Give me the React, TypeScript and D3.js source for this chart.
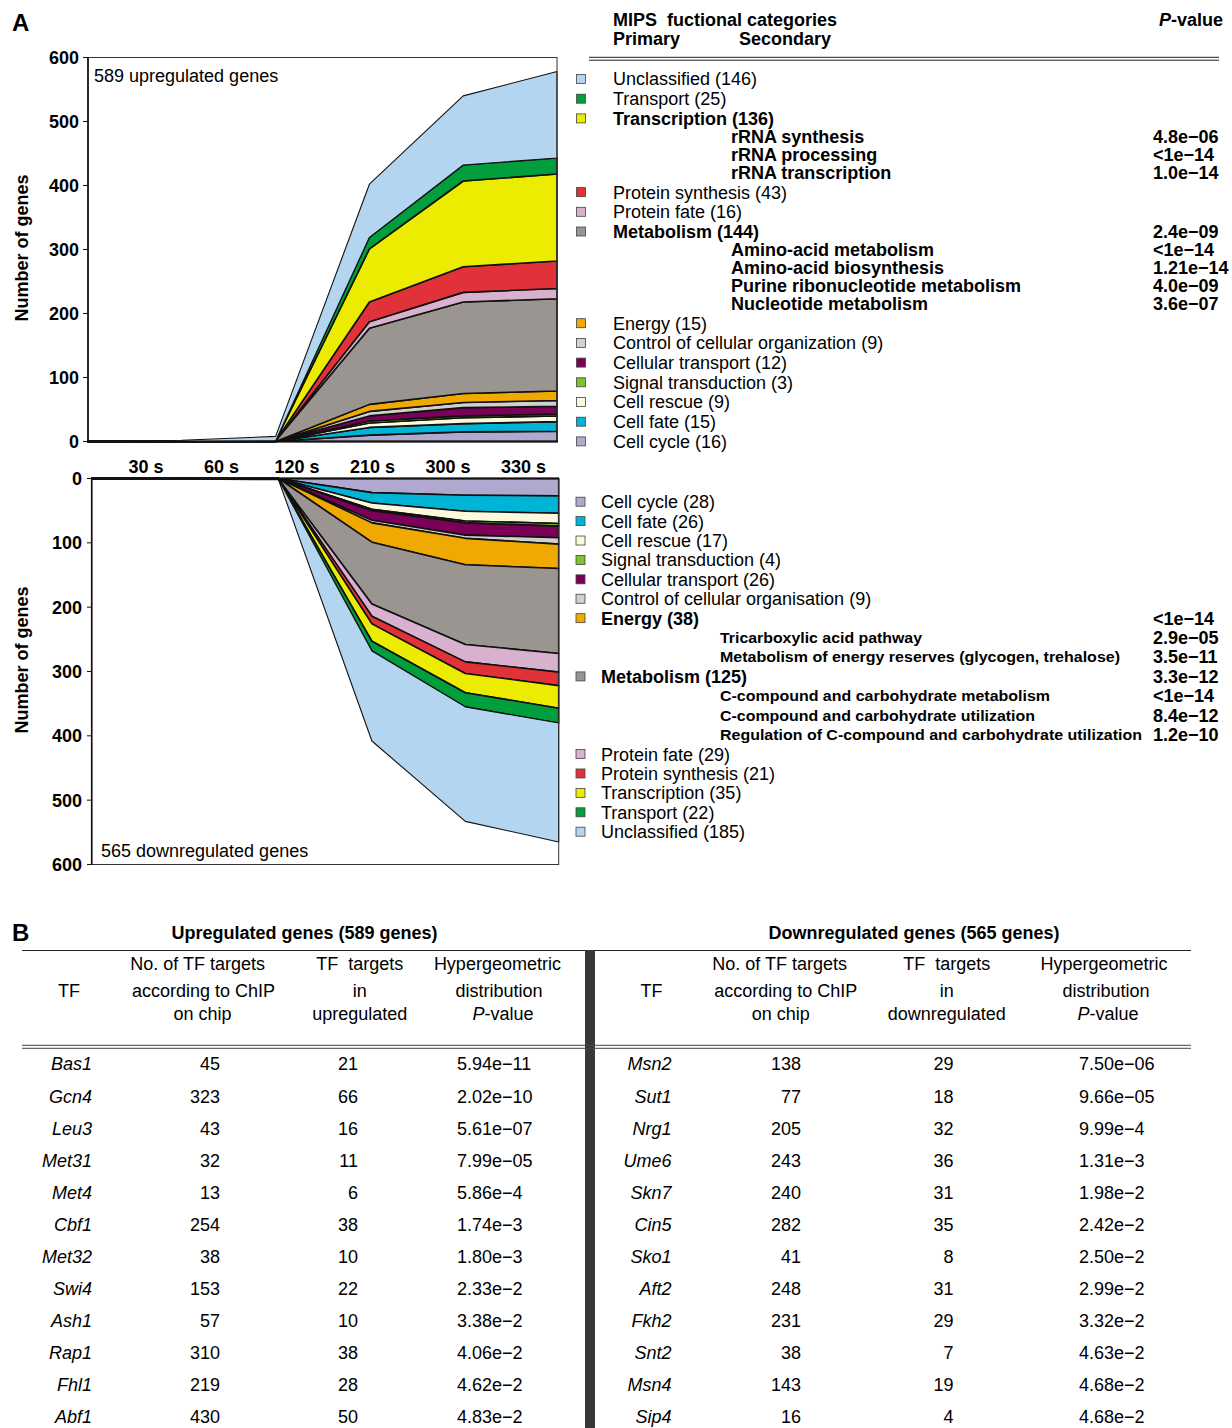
import React from 'react';
import * as d3 from 'd3';

const W = 1232;
const H = 1428;
const FONT = '"Liberation Sans", Arial, Helvetica, sans-serif';

// ---------- shared ----------
const times = ['30 s', '60 s', '120 s', '210 s', '300 s', '330 s'];
const yTickValues = [0, 100, 200, 300, 400, 500, 600];

const categoryKeys = [
  'cellCycle', 'cellFate', 'cellRescue', 'signal', 'cellTransport', 'control',
  'energy', 'metabolism', 'proteinFate', 'proteinSynthesis', 'transcription',
  'transport', 'unclassified',
];
const categoryColors = [
  '#b1a8cf', '#00b4d6', '#fdf9dc', '#7cc42e', '#7b0057', '#d3cfcc',
  '#efa900', '#9a9591', '#d8b1cf', '#e1323a', '#ecec00', '#009e3d', '#b4d5ef',
];

// ---------- upregulated (number of genes per time point) ----------
const upCellCycle = [0, 0, 0, 10, 15, 16];
const upCellFate = [0, 0, 0, 12, 13, 15];
const upCellRescue = [0, 0, 0, 7, 9, 9];
const upSignal = [0, 0, 0, 3, 3, 3];
const upCellTransport = [0, 0, 0, 8, 13, 12];
const upControl = [0, 0, 0, 7, 8, 9];
const upEnergy = [0, 0, 0, 11, 14, 15];
const upMetabolism = [0, 0, 1, 119, 143, 144];
const upProteinFate = [0, 0, 0, 10, 15, 16];
const upProteinSynthesis = [0, 0, 0, 31, 40, 43];
const upTranscription = [0, 0, 0, 83, 134, 136];
const upTransport = [0, 0, 0, 18, 25, 25];
const upUnclassified = [0, 2, 7, 83, 108, 135];

// ---------- downregulated ----------
const downCellCycle = [0, 0, 0, 22, 26, 27];
const downCellFate = [0, 0, 0, 16, 25, 27];
const downCellRescue = [0, 0, 0, 10, 15, 16];
const downSignal = [0, 0, 0, 2, 3, 4];
const downCellTransport = [0, 0, 0, 15, 19, 18];
const downControl = [0, 0, 0, 4, 5, 10];
const downEnergy = [0, 0, 0, 30, 41, 38];
const downMetabolism = [0, 0, 1, 96, 124, 132];
const downProteinFate = [0, 0, 0, 19, 27, 29];
const downProteinSynthesis = [0, 0, 0, 12, 18, 21];
const downTranscription = [0, 0, 0, 27, 30, 35];
const downTransport = [0, 0, 0, 15, 22, 23];
const downUnclassified = [0, 1, 1, 140, 178, 185];

// ---------- legends ----------
const upLegendText = [
  'Unclassified (146)', 'Transport (25)', 'Transcription (136)',
  'rRNA synthesis', 'rRNA processing', 'rRNA transcription',
  'Protein synthesis (43)', 'Protein fate (16)', 'Metabolism (144)',
  'Amino-acid metabolism', 'Amino-acid biosynthesis', 'Purine ribonucleotide metabolism', 'Nucleotide metabolism',
  'Energy (15)', 'Control of cellular organization (9)', 'Cellular transport (12)',
  'Signal transduction (3)', 'Cell rescue (9)', 'Cell fate (15)', 'Cell cycle (16)',
];
const upLegendKey = [
  'unclassified', 'transport', 'transcription', '', '', '',
  'proteinSynthesis', 'proteinFate', 'metabolism', '', '', '', '',
  'energy', 'control', 'cellTransport', 'signal', 'cellRescue', 'cellFate', 'cellCycle',
];
const upLegendLevel = [
  'p', 'p', 'P', 's', 's', 's', 'p', 'p', 'P', 's', 's', 's', 's',
  'p', 'p', 'p', 'p', 'p', 'p', 'p',
];
const upLegendP = [
  '', '', '', '4.8e\u221206', '<1e\u221214', '1.0e\u221214', '', '', '2.4e\u221209',
  '<1e\u221214', '1.21e\u221214', '4.0e\u221209', '3.6e\u221207', '', '', '', '', '', '', '',
];

const downLegendText = [
  'Cell cycle (28)', 'Cell fate (26)', 'Cell rescue (17)', 'Signal transduction (4)',
  'Cellular transport (26)', 'Control of cellular organisation (9)', 'Energy (38)',
  'Tricarboxylic acid pathway', 'Metabolism of energy reserves (glycogen, trehalose)',
  'Metabolism (125)', 'C-compound and carbohydrate metabolism',
  'C-compound and carbohydrate utilization', 'Regulation of C-compound and carbohydrate utilization',
  'Protein fate (29)', 'Protein synthesis (21)', 'Transcription (35)', 'Transport (22)', 'Unclassified (185)',
];
const downLegendKey = [
  'cellCycle', 'cellFate', 'cellRescue', 'signal', 'cellTransport', 'control', 'energy',
  '', '', 'metabolism', '', '', '',
  'proteinFate', 'proteinSynthesis', 'transcription', 'transport', 'unclassified',
];
const downLegendLevel = [
  'p', 'p', 'p', 'p', 'p', 'p', 'P', 's', 's', 'P', 's', 's', 's', 'p', 'p', 'p', 'p', 'p',
];
const downLegendP = [
  '', '', '', '', '', '', '<1e\u221214', '2.9e\u221205', '3.5e\u221211', '3.3e\u221212',
  '<1e\u221214', '8.4e\u221212', '1.2e\u221210', '', '', '', '', '',
];

// ---------- table B ----------
const upTF = ['Bas1', 'Gcn4', 'Leu3', 'Met31', 'Met4', 'Cbf1', 'Met32', 'Swi4', 'Ash1', 'Rap1', 'Fhl1', 'Abf1'];
const upChip = [45, 323, 43, 32, 13, 254, 38, 153, 57, 310, 219, 430];
const upHits = [21, 66, 16, 11, 6, 38, 10, 22, 10, 38, 28, 50];
const upPval = ['5.94e\u221211', '2.02e\u221210', '5.61e\u221207', '7.99e\u221205', '5.86e\u22124', '1.74e\u22123',
  '1.80e\u22123', '2.33e\u22122', '3.38e\u22122', '4.06e\u22122', '4.62e\u22122', '4.83e\u22122'];
const downTF = ['Msn2', 'Sut1', 'Nrg1', 'Ume6', 'Skn7', 'Cin5', 'Sko1', 'Aft2', 'Fkh2', 'Snt2', 'Msn4', 'Sip4'];
const downChip = [138, 77, 205, 243, 240, 282, 41, 248, 231, 38, 143, 16];
const downHits = [29, 18, 32, 36, 31, 35, 8, 31, 29, 7, 19, 4];
const downPval = ['7.50e\u221206', '9.66e\u221205', '9.99e\u22124', '1.31e\u22123', '1.98e\u22122', '2.42e\u22122',
  '2.50e\u22122', '2.99e\u22122', '3.32e\u22122', '4.63e\u22122', '4.68e\u22122', '4.68e\u22122'];

const upHeaders = [['No. of TF targets', 'according to ChIP', 'on chip'], ['TF  targets', 'in', 'upregulated'], ['Hypergeometric', 'distribution', 'P-value']];
const downHeaders = [['No. of TF targets', 'according to ChIP', 'on chip'], ['TF  targets', 'in', 'downregulated'], ['Hypergeometric', 'distribution', 'P-value']];

// ---------- helpers ----------
const upSeries = [upCellCycle, upCellFate, upCellRescue, upSignal, upCellTransport, upControl, upEnergy,
  upMetabolism, upProteinFate, upProteinSynthesis, upTranscription, upTransport, upUnclassified];
const downSeries = [downCellCycle, downCellFate, downCellRescue, downSignal, downCellTransport, downControl, downEnergy,
  downMetabolism, downProteinFate, downProteinSynthesis, downTranscription, downTransport, downUnclassified];

function toRows(series: number[][]) {
  return times.map((t, i) => {
    const r: any = { time: t };
    categoryKeys.forEach((k, j) => { r[k] = series[j][i]; });
    return r;
  });
}

const colorOf = (k: string) => categoryColors[categoryKeys.indexOf(k)];

function PText({ s }: { s: string }) {
  if (s.startsWith('P-')) {
    return (<><tspan fontStyle="italic">P</tspan>{s.slice(1)}</>);
  }
  return <>{s}</>;
}

export default function App() {
  // scales
  const xTop = d3.scalePoint<string>().domain(times).range([88, 557]);
  const yTop = d3.scaleLinear().domain([0, 600]).range([441.5, 57.5]);
  const xBot = d3.scalePoint<string>().domain(times).range([91.7, 558.7]);
  const yBot = d3.scaleLinear().domain([0, 600]).range([478.5, 864.5]);
  const xLabel = d3.scaleBand<string>().domain(times).range([108.3, 561.3]);

  const stack = d3.stack<any>().keys(categoryKeys);
  const upStack = stack(toRows(upSeries));
  const downStack = stack(toRows(downSeries));

  const areaTop = d3.area<any>()
    .x((d) => xTop(d.data.time) as number)
    .y0((d) => yTop(d[0]))
    .y1((d) => yTop(d[1]));
  const areaBot = d3.area<any>()
    .x((d) => xBot(d.data.time) as number)
    .y0((d) => yBot(d[0]))
    .y1((d) => yBot(d[1]));

  // legend row positions
  const upYs: number[] = [];
  upLegendLevel.forEach((lv, i) => {
    if (i === 0) upYs.push(79);
    else upYs.push(upYs[i - 1] + (lv === 's' ? 18 : 19.7));
  });
  const downRowY = d3.scalePoint<number>().domain(d3.range(downLegendText.length)).range([501.7, 831.7]);
  const downSecWidths: Record<number, number> = { 7: 202, 8: 400, 10: 330, 11: 315, 12: 422 };

  const rowY = d3.scalePoint<number>().domain(d3.range(upTF.length)).range([1064, 1416.7]);

  const tickFont = { fontFamily: FONT, fontWeight: 700, fontSize: 18 } as const;

  return (
    <div style={{ width: W, height: H, position: 'absolute', left: 0, top: 0, overflow: 'hidden' }}>
      <svg width={W} height={H} viewBox={`0 0 ${W} ${H}`}
        style={{ position: 'absolute', left: 0, top: 0, background: '#fff', display: 'block' }}
        fontFamily={FONT}>
        <rect x={0} y={0} width={W} height={H} fill="#fff" />

        {/* Panel labels */}
        <text x={12} y={31} fontSize={24} fontWeight={700}>A</text>
        <text x={12} y={941} fontSize={24} fontWeight={700}>B</text>

        {/* ===== Top chart ===== */}
        <g>
          {upStack.map((s, j) => (
            <path key={j} d={areaTop(s) as string} fill={categoryColors[j]}
              stroke="#111" strokeWidth={j === categoryKeys.length - 1 ? 1.1 : 1.6} strokeLinejoin="round" />
          ))}
          <rect x={88} y={57.5} width={469} height={384} fill="none" stroke="#333" strokeWidth={1} />
          <line x1={88} x2={88} y1={57.5} y2={442.5} stroke="#111" strokeWidth={1.6} />
          <line x1={87} x2={558} y1={441.5} y2={441.5} stroke="#111" strokeWidth={2.2} />
          {yTickValues.map((v) => (
            <g key={v}>
              <line x1={83} x2={88} y1={yTop(v)} y2={yTop(v)} stroke="#111" strokeWidth={1} />
              <text x={79} y={yTop(v)} dy="0.36em" textAnchor="end" {...tickFont}>{v}</text>
            </g>
          ))}
          <text x={94} y={81.5} fontSize={18}>589 upregulated genes</text>
          <text transform="translate(28,248) rotate(-90)" textAnchor="middle" {...tickFont}>Number of genes</text>
        </g>

        {/* x labels */}
        {times.map((t) => (
          <text key={t} x={(xLabel(t) as number) + xLabel.bandwidth() / 2} y={473} textAnchor="middle" {...tickFont}>{t}</text>
        ))}

        {/* ===== Bottom chart ===== */}
        <g>
          {downStack.map((s, j) => (
            <path key={j} d={areaBot(s) as string} fill={categoryColors[j]}
              stroke="#111" strokeWidth={j === categoryKeys.length - 1 ? 1.1 : 1.6} strokeLinejoin="round" />
          ))}
          <rect x={91.7} y={478.5} width={467} height={386} fill="none" stroke="#333" strokeWidth={1} />
          <line x1={91.7} x2={91.7} y1={478} y2={865} stroke="#111" strokeWidth={1.6} />
          <line x1={91} x2={559} y1={478.5} y2={478.5} stroke="#111" strokeWidth={2} />
          {yTickValues.map((v) => (
            <g key={v}>
              <line x1={87} x2={91.7} y1={yBot(v)} y2={yBot(v)} stroke="#111" strokeWidth={1} />
              <text x={82} y={yBot(v)} dy="0.36em" textAnchor="end" {...tickFont}>{v}</text>
            </g>
          ))}
          <text x={101} y={856.5} fontSize={18}>565 downregulated genes</text>
          <text transform="translate(28,660) rotate(-90)" textAnchor="middle" {...tickFont}>Number of genes</text>
        </g>

        {/* ===== Top legend ===== */}
        <g>
          <text x={613} y={26} fontSize={18} fontWeight={700} style={{ whiteSpace: 'pre' }}>MIPS  fuctional categories</text>
          <text x={613} y={45} fontSize={18} fontWeight={700}>Primary</text>
          <text x={739} y={45} fontSize={18} fontWeight={700}>Secondary</text>
          <text x={1223} y={26} fontSize={18} fontWeight={700} textAnchor="end"><tspan fontStyle="italic">P</tspan>-value</text>
          <line x1={589} x2={1219} y1={57.3} y2={57.3} stroke="#222" strokeWidth={1} />
          <line x1={589} x2={1219} y1={60.2} y2={60.2} stroke="#222" strokeWidth={1} />
          {upLegendText.map((t, i) => {
            const lv = upLegendLevel[i];
            const y = upYs[i];
            return (
              <g key={i}>
                {upLegendKey[i] && (
                  <rect x={576.5} y={y - 4.5} width={9} height={9} fill={colorOf(upLegendKey[i])} stroke="#444" strokeWidth={0.8} />
                )}
                <text x={lv === 's' ? 731 : 613} y={y} dy="0.36em" fontSize={18}
                  fontWeight={lv === 'p' ? 400 : 700}>{t}</text>
                {upLegendP[i] && (
                  <text x={1153} y={y} dy="0.36em" fontSize={18} fontWeight={700}>{upLegendP[i]}</text>
                )}
              </g>
            );
          })}
        </g>

        {/* ===== Bottom legend ===== */}
        <g>
          {downLegendText.map((t, i) => {
            const lv = downLegendLevel[i];
            const y = downRowY(i) as number;
            const w = downSecWidths[i];
            return (
              <g key={i}>
                {downLegendKey[i] && (
                  <rect x={576} y={y - 4.5} width={9} height={9} fill={colorOf(downLegendKey[i])} stroke="#444" strokeWidth={0.8} />
                )}
                {lv === 's' ? (
                  <text x={720} y={y} dy="0.36em" fontSize={15} fontWeight={700}
                    textLength={w} lengthAdjust="spacingAndGlyphs">{t}</text>
                ) : (
                  <text x={601} y={y} dy="0.36em" fontSize={18} fontWeight={lv === 'P' ? 700 : 400}>{t}</text>
                )}
                {downLegendP[i] && (
                  <text x={1153} y={y} dy="0.36em" fontSize={18} fontWeight={700}>{downLegendP[i]}</text>
                )}
              </g>
            );
          })}
        </g>

        {/* ===== Table B ===== */}
        <g fontSize={18}>
          <text x={304.5} y={933} dy="0.36em" textAnchor="middle" fontWeight={700}>Upregulated genes (589 genes)</text>
          <text x={914} y={933} dy="0.36em" textAnchor="middle" fontWeight={700}>Downregulated genes (565 genes)</text>
          <line x1={22} x2={1191} y1={950.5} y2={950.5} stroke="#222" strokeWidth={1.2} />
          <rect x={585} y={950} width={10} height={H - 950} fill="#3b3735" />
          <line x1={22} x2={1191} y1={1045.3} y2={1045.3} stroke="#444" strokeWidth={1} />
          <line x1={22} x2={1191} y1={1048.3} y2={1048.3} stroke="#444" strokeWidth={1} />

          <text x={69} y={990.7} dy="0.36em" textAnchor="middle">TF</text>
          <text x={651.5} y={990.7} dy="0.36em" textAnchor="middle">TF</text>
          {[[197.7, 203.6, 202.4], [359.8, 359.8, 359.8], [497.4, 499, 503]].map((xs, c) => (
            upHeaders[c].map((h, r) => (
              <text key={`u${c}${r}`} x={xs[r]} y={[963.3, 990.7, 1014][r]} dy="0.36em" textAnchor="middle"
                style={{ whiteSpace: 'pre' }}><PText s={h} /></text>
            ))
          ))}
          {[[779.6, 785.8, 780.8], [946.7, 946.7, 946.7], [1104, 1106, 1108]].map((xs, c) => (
            downHeaders[c].map((h, r) => (
              <text key={`d${c}${r}`} x={xs[r]} y={[963.3, 990.7, 1014][r]} dy="0.36em" textAnchor="middle"
                style={{ whiteSpace: 'pre' }}><PText s={h} /></text>
            ))
          ))}

          {upTF.map((tf, i) => {
            const y = rowY(i) as number;
            return (
              <g key={`ur${i}`}>
                <text x={92} y={y} dy="0.36em" textAnchor="end" fontStyle="italic">{tf}</text>
                <text x={220} y={y} dy="0.36em" textAnchor="end">{upChip[i]}</text>
                <text x={358} y={y} dy="0.36em" textAnchor="end">{upHits[i]}</text>
                <text x={457} y={y} dy="0.36em">{upPval[i]}</text>
              </g>
            );
          })}
          {downTF.map((tf, i) => {
            const y = rowY(i) as number;
            return (
              <g key={`dr${i}`}>
                <text x={671.5} y={y} dy="0.36em" textAnchor="end" fontStyle="italic">{tf}</text>
                <text x={801} y={y} dy="0.36em" textAnchor="end">{downChip[i]}</text>
                <text x={953.5} y={y} dy="0.36em" textAnchor="end">{downHits[i]}</text>
                <text x={1079} y={y} dy="0.36em">{downPval[i]}</text>
              </g>
            );
          })}
        </g>
      </svg>
    </div>
  );
}
